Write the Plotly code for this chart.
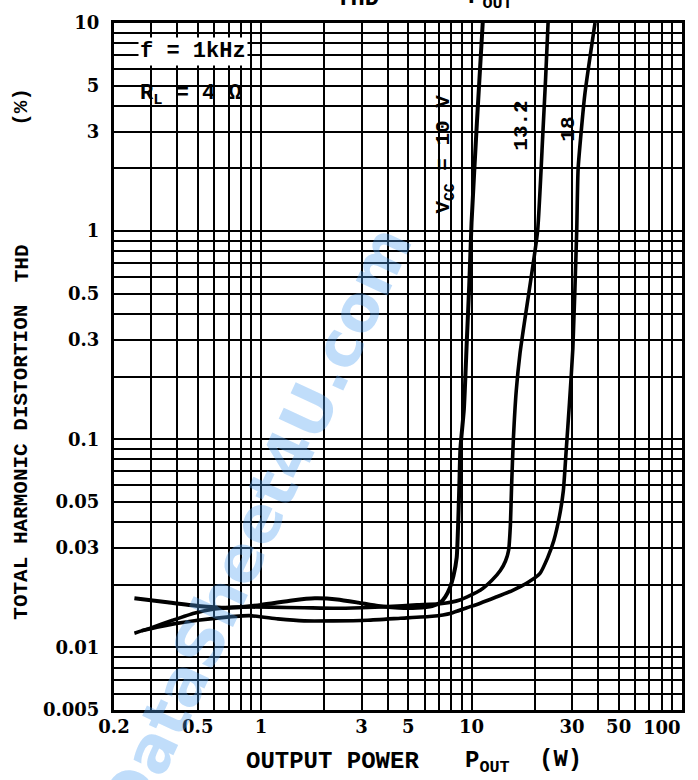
import math
import plotly.graph_objects as go

# ---------------- data ----------------
p_10v = [0.25, 0.35, 0.5, 0.7, 1.0, 1.4, 1.8, 2.3, 2.9, 3.6, 4.5, 5.5, 6.5, 7.1, 7.5, 7.9,
         8.2, 8.5, 8.75, 8.85, 9.2, 9.5, 9.75, 10.0, 10.6, 11.3]
thd_10v = [0.0172, 0.0165, 0.0158, 0.0155, 0.0160, 0.0168, 0.0172, 0.0170, 0.0164, 0.0158, 0.0155,
           0.0155, 0.0158, 0.0164, 0.0175, 0.0194, 0.022, 0.027, 0.06, 0.09, 0.14, 0.3, 0.55,
           1.1, 3.3, 10]

p_13v = [0.25, 0.3, 0.38, 0.48, 0.6, 0.8, 1.1, 1.6, 2.2, 3.0, 4.0, 5.5, 7.1, 8.8, 11.0, 12.5,
         13.7, 14.5, 15.0, 15.3, 15.5, 15.8, 16.3, 17.0, 17.8, 18.8, 20.6, 21.8, 22.5, 23.1]
thd_13v = [0.0117, 0.0124, 0.0135, 0.0146, 0.0153, 0.0156, 0.0156, 0.0155, 0.0154, 0.0155, 0.0157,
           0.0160, 0.0162, 0.0169, 0.0188, 0.021, 0.0234, 0.026, 0.0293, 0.039, 0.06, 0.1, 0.17,
           0.26, 0.36, 0.52, 1.0, 2.9, 5.5, 10]

p_18v = [0.27, 0.32, 0.39, 0.5, 0.65, 0.88, 1.2, 1.6, 2.2, 3.2, 4.6, 6.5, 8.0, 9.5, 11.0, 13.0,
         15.7, 18.5, 21.1, 23.0, 24.6, 26.2, 27.3, 28.2, 29.2, 30.3, 31.6, 32.1, 34.5, 38.6]
thd_18v = [0.0120, 0.0125, 0.0130, 0.0135, 0.0139, 0.0142, 0.0137, 0.0134, 0.0134, 0.0135, 0.0138,
           0.0141, 0.0146, 0.0155, 0.0163, 0.0174, 0.0188, 0.0205, 0.0226, 0.027, 0.0326, 0.043,
           0.0566, 0.09, 0.15, 0.274, 1.0, 2.0, 4.5, 10]

x_grid = [0.2, 0.3, 0.4, 0.5, 0.6, 0.7, 0.8, 0.9, 1, 2, 3, 4, 5, 6, 7, 8, 9,
          10, 20, 30, 40, 50, 60, 70, 80, 90, 100]
x_labels = {0.2: "0.2", 0.5: "0.5", 1: "1", 3: "3", 5: "5", 10: "10", 30: "30", 50: "50"}
x_last_label = "100"
y_grid = [0.005, 0.006, 0.007, 0.008, 0.009, 0.01, 0.02, 0.03, 0.04, 0.05, 0.06, 0.07, 0.08, 0.09,
          0.1, 0.2, 0.3, 0.4, 0.5, 0.6, 0.7, 0.8, 0.9, 1, 2, 3, 4, 5, 6, 7, 8, 9, 10]
y_labels = {0.005: "0.005", 0.01: "0.01", 0.03: "0.03", 0.05: "0.05", 0.1: "0.1", 0.3: "0.3",
            0.5: "0.5", 1: "1", 3: "3", 5: "5", 10: "10"}

X_MIN, X_MAX = 0.2, 100
Y_MIN, Y_MAX = 0.005, 10

# ---------------- layout geometry ----------------
W, H = 698, 780
L, R, T, B = 114, 682, 21, 710


def px_x(v):
    return L + (math.log10(v) - math.log10(X_MIN)) / (math.log10(X_MAX) - math.log10(X_MIN)) * (R - L)


def px_y(v):
    return B - (math.log10(v) - math.log10(Y_MIN)) / (math.log10(Y_MAX) - math.log10(Y_MIN)) * (B - T)


def pp_x(px):
    return (px - L) / (R - L)


def pp_y(py):
    return (B - py) / (B - T)


fig = go.Figure()
for xs, ys, w in [(p_10v, thd_10v, 4.0), (p_13v, thd_13v, 3.6), (p_18v, thd_18v, 3.6)]:
    fig.add_trace(go.Scatter(x=xs, y=ys, mode="lines",
                             line=dict(color="black", width=w, shape="spline", smoothing=0.5),
                             showlegend=False, hoverinfo="skip"))

tick_font = dict(family="DejaVu Serif", size=18, color="black", weight="bold")
axis_common = dict(type="log", showgrid=True, gridcolor="black", gridwidth=2,
                   showline=True, linecolor="black", linewidth=3, mirror=True,
                   zeroline=False, ticks="", tickfont=tick_font)

eps = 1e-6
fig.update_layout(
    width=W, height=H,
    margin=dict(l=L, r=W - R, t=T, b=H - B, pad=0),
    paper_bgcolor="white", plot_bgcolor="white",
    xaxis=dict(range=[math.log10(X_MIN) - eps, math.log10(X_MAX) + eps], tickmode="array",
               tickvals=x_grid, ticktext=[x_labels.get(v, "") for v in x_grid],
               ticklabelstandoff=-2, **axis_common),
    yaxis=dict(range=[math.log10(Y_MIN) - eps, math.log10(Y_MAX) + eps], tickmode="array",
               tickvals=y_grid, ticktext=[y_labels.get(v, "") for v in y_grid],
               ticklabelstandoff=8, **axis_common),
)

# white label areas (between grid and traces)
shapes = [
    dict(x0=pp_x(L + 9), x1=pp_x(px_x(2) - 1.5), y0=pp_y(px_y(3) - 1.5), y1=pp_y(T + 1.5)),
    dict(x0=pp_x(px_x(5) + 1.5), x1=pp_x(px_x(9) - 1.5), y0=pp_y(px_y(1) - 1.5), y1=pp_y(px_y(6) + 1.5)),
    dict(x0=pp_x(px_x(12.5)), x1=pp_x(px_x(33)), y0=pp_y(px_y(2) - 1.5), y1=pp_y(px_y(5) + 1.5)),
]
for s in shapes:
    fig.add_shape(type="rect", xref="paper", yref="paper", fillcolor="white",
                  line=dict(width=0), layer="between", **s)

mono = "Liberation Mono"
ann = []
# last x tick label, kept inside the page like the original
ann.append(dict(text=x_last_label, x=pp_x(R + 1), y=pp_y(B + 5), xanchor="right", yanchor="top",
                font=tick_font))
# condition text
cfont = dict(family=mono, size=22, color="black", weight="bold")
ann.append(dict(text="f = 1kHz", x=pp_x(138), y=pp_y(50), xanchor="left", yanchor="middle", font=cfont,
                bgcolor="white"))
ann.append(dict(text="R<sub>L</sub> = 4 Ω", x=pp_x(138), y=pp_y(93), xanchor="left", yanchor="middle",
                font=cfont))
# curve labels
lfont = dict(family=mono, size=21, color="black", weight="bold")
ann.append(dict(text="V<sub>CC</sub> = 10 V", x=pp_x(445), y=pp_y(152), textangle=-90,
                xanchor="center", yanchor="middle", font=lfont))
ann.append(dict(text="13.2", x=pp_x(522), y=pp_y(124), textangle=-90, xanchor="center", yanchor="middle",
                font=lfont))
ann.append(dict(text="18", x=pp_x(569), y=pp_y(128), textangle=-90, xanchor="center", yanchor="middle",
                font=lfont))
# axis titles
tfont = dict(family=mono, size=24, color="black", weight="bold")
ann.append(dict(text="OUTPUT POWER", x=pp_x(332), y=pp_y(762), xanchor="center", yanchor="middle", font=tfont))
ann.append(dict(text="P<sub>OUT</sub>", x=pp_x(487), y=pp_y(762), xanchor="center", yanchor="middle", font=tfont))
ann.append(dict(text="(W)", x=pp_x(560), y=pp_y(760), xanchor="center", yanchor="middle", font=tfont))
yfont = dict(family=mono, size=21, color="black", weight="bold")
ann.append(dict(text="TOTAL HARMONIC DISTORTION", x=pp_x(22), y=pp_y(462), textangle=-90,
                xanchor="center", yanchor="middle", font=yfont))
ann.append(dict(text="THD", x=pp_x(22), y=pp_y(262), textangle=-90, xanchor="center", yanchor="middle", font=yfont))
ann.append(dict(text="(%)", x=pp_x(22), y=pp_y(105), textangle=-90, xanchor="center", yanchor="middle", font=yfont))
# clipped chart title at the very top
ann.append(dict(text="THD", x=pp_x(357), y=pp_y(12), xanchor="center", yanchor="bottom", font=tfont))
ann.append(dict(text="P<sub>OUT</sub>", x=pp_x(490), y=pp_y(13), xanchor="center", yanchor="bottom", font=tfont))
# watermark
ann.append(dict(text="DataSheet4U.com", x=pp_x(256), y=pp_y(524), textangle=-65,
                xanchor="center", yanchor="middle",
                font=dict(family="DejaVu Sans", size=64, color="rgba(80,160,240,0.36)", weight="bold")))

for a in ann:
    fig.add_annotation(xref="paper", yref="paper", showarrow=False, **a)

fig.write_html("out.html", config={"displayModeBar": False},
               post_script="document.body.style.margin='0';")
